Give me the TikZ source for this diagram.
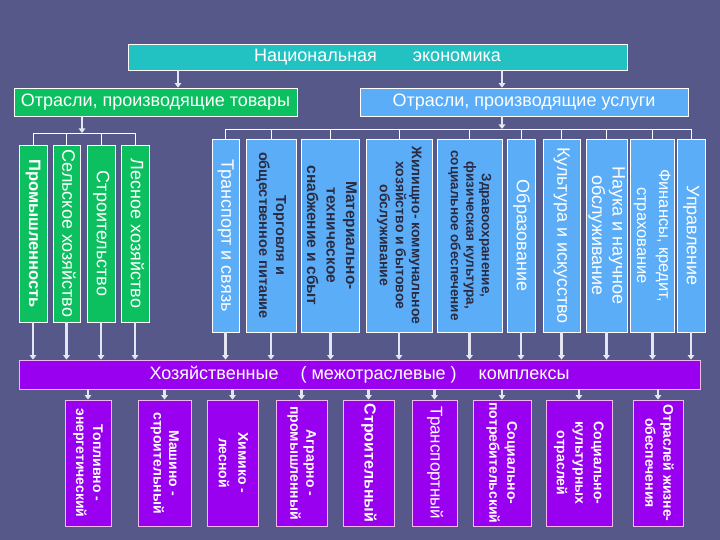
\documentclass[tikz,border=0pt]{standalone}
\usepackage{fontspec}
\setmainfont{Liberation Sans}
\usetikzlibrary{arrows.meta}
\definecolor{bgc}{HTML}{56588A}
\definecolor{tealc}{HTML}{22C2C2}
\definecolor{greenc}{HTML}{0CC060}
\definecolor{bluec}{HTML}{5CADF7}
\definecolor{purplec}{HTML}{9A00F0}
\definecolor{pinkc}{HTML}{F2B8F2}
\definecolor{arrc}{HTML}{E6E6F2}
\definecolor{darkt}{HTML}{2A2A40}
\newcommand{\vtx}[4][]{\rotatebox{-90}{\fontsize{#2}{#3}\selectfont#1\begin{tabular}{@{}c@{}}#4\end{tabular}}}
\begin{document}
\begin{tikzpicture}[x=1pt,y=-1pt,
  box/.style={draw=white, line width=0.8pt, inner sep=0pt, text=white},
  tbox/.style={box, fill=tealc},
  gbox/.style={box, fill=greenc},
  bbox/.style={box, fill=bluec},
  pbox/.style={box, fill=purplec, draw=pinkc},
  arr/.style={draw=arrc, line width=2.2pt, -{Triangle[width=6.5pt,length=4.5pt]}},
  brk/.style={draw=white, line width=0.8pt}]
\fill[bgc] (0,0) rectangle (720,540);
\useasboundingbox (0,0) rectangle (720,540);

% top level
\node[tbox, minimum width=499, minimum height=26, font=\fontsize{18}{21}\selectfont] (title) at (377.5,57) {Национальная\hspace{36pt}экономика};
\node[gbox, minimum width=283, minimum height=28, font=\fontsize{18}{21}\selectfont] (L) at (155.5,102) {Отрасли, производящие товары};
\node[bbox, minimum width=328, minimum height=28, font=\fontsize{18}{21}\selectfont] (R) at (524,102) {Отрасли, производящие услуги};

% green boxes
\node[gbox, minimum width=28, minimum height=177] (g1) at (33,233.5) {\vtx[\bfseries]{16.5}{20}{Промышленность}};
\node[gbox, minimum width=27, minimum height=177] (g2) at (66.5,233.5) {\vtx{18}{21}{Сельское хозяйство}};
\node[gbox, minimum width=28, minimum height=177] (g3) at (101,233.5) {\vtx{18}{21}{Строительство}};
\node[gbox, minimum width=28, minimum height=177] (g4) at (135,233.5) {\vtx{18}{21}{Лесное хозяйство}};

% blue boxes
\node[bbox, minimum width=27, minimum height=193] (b1) at (225.5,235.5) {\vtx{18}{21}{Транспорт и связь}};
\node[bbox, minimum width=50, minimum height=193, text=darkt] (b2) at (271,235.5) {\vtx[\bfseries]{14.5}{17}{Торговля и\\ общественное питание}};
\node[bbox, minimum width=55, minimum height=193, text=darkt] (b3) at (330.5,235.5) {\vtx[\bfseries]{15.5}{19.5}{Материально-\\ техническое\\ снабжение и сбыт}};
\node[bbox, minimum width=66, minimum height=193, text=darkt] (b4) at (399,235.5) {\vtx[\bfseries]{14}{16}{Жилищно- коммунальное\\ хозяйство и бытовое\\ обслуживание}};
\node[bbox, minimum width=65, minimum height=193, text=darkt] (b5) at (469.5,235.5) {\vtx[\bfseries]{13.5}{15.5}{Здравоохранение,\\ физическая культура,\\ социальное обеспечение}};
\node[bbox, minimum width=28, minimum height=193] (b6) at (521,235.5) {\vtx{18}{21}{Образование}};
\node[bbox, minimum width=37, minimum height=193] (b7) at (561.5,235.5) {\vtx{18}{21}{Культура и искусство}};
\node[bbox, minimum width=41, minimum height=193] (b8) at (606.5,235.5) {\vtx{18}{20.5}{Наука и научное\\ обслуживание}};
\node[bbox, minimum width=39, minimum height=193] (b9) at (652.5,235.5) {\vtx{16.5}{22}{Финансы, кредит,\\ страхование}};
\node[bbox, minimum width=28, minimum height=193] (b10) at (691,235.5) {\vtx{18}{21}{Управление}};

% bar
\node[pbox, minimum width=681, minimum height=29, font=\fontsize{18}{21}\selectfont] (bar) at (359.5,374.5) {Хозяйственные\hspace{22pt}( межотраслевые )\hspace{22pt}комплексы};

% bottom boxes
\node[pbox, minimum width=46, minimum height=126] (c1) at (88,463) {\vtx[\bfseries]{14}{17}{Топливно -\\ энергетический}};
\node[pbox, minimum width=53, minimum height=126] (c2) at (164.5,463) {\vtx[\bfseries]{14}{15.5}{Машино -\\ строительный}};
\node[pbox, minimum width=51, minimum height=126] (c3) at (232.5,463) {\vtx[\bfseries]{14}{19.5}{Химико -\\ лесной}};
\node[pbox, minimum width=51, minimum height=126] (c4) at (301.5,463) {\vtx[\bfseries]{14}{16}{Аграрно -\\ промышленный}};
\node[pbox, minimum width=51, minimum height=126] (c5) at (368.5,463) {\vtx[\bfseries]{16}{19}{Строительный}};
\node[pbox, minimum width=45, minimum height=126] (c6) at (434.5,463) {\vtx{17}{20}{Транспортный}};
\node[pbox, minimum width=58, minimum height=126] (c7) at (502,463) {\vtx[\bfseries]{14}{18}{Социально-\\ потребительский}};
\node[pbox, minimum width=66, minimum height=126] (c8) at (579,463) {\vtx[\bfseries]{14}{18.5}{Социально-\\ культурных\\ отраслей}};
\node[pbox, minimum width=50, minimum height=126] (c9) at (658,463) {\vtx[\bfseries]{14}{18}{Отраслей жизне-\\ обеспечения}};

% connectors: top
\coordinate (a1) at (178,0);
\coordinate (a2) at (502,0);
\draw[arr] (title.south -| a1) -- (L.north -| a1);
\draw[arr] (title.south -| a2) -- (R.north -| a2);

% green bracket
\coordinate (bl) at (82,133);
\draw[arr] (L.south -| bl) -- (bl);
\draw[brk] (bl -| g1) -- (bl -| g4);
\foreach \n in {g1,g2,g3,g4} \draw[brk] (bl -| \n) -- (\n.north);

% blue bracket
\coordinate (br) at (502,129);
\draw[arr] (R.south -| br) -- (br);
\draw[brk] (br -| b1) -- (br -| b10);
\foreach \n in {b1,b2,b3,b4,b5,b6,b7,b8,b9,b10} \draw[brk] (br -| \n) -- (\n.north);

% to bar
\foreach \n in {g1,g2,g3,g4,b1,b2,b3,b4,b5,b6,b7,b8,b9,b10}
  \draw[arr] (\n.south) -- (\n.south |- bar.north);

% from bar
\foreach \n in {c1,c2,c3,c4,c5,c6,c7,c8,c9}
  \draw[arr] (bar.south -| \n) -- (\n.north);
\end{tikzpicture}
\end{document}
